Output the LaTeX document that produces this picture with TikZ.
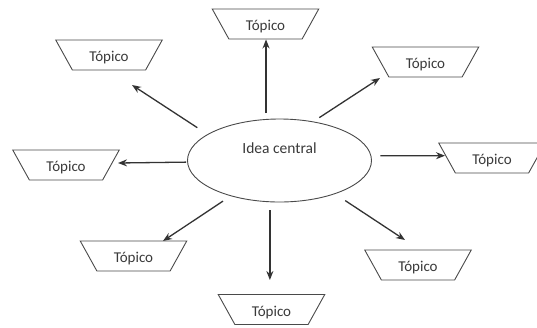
\documentclass[tikz,border=0pt]{standalone}
\usepackage{fontspec}
\setmainfont{Carlito}
\usetikzlibrary{shapes.geometric,arrows.meta}
\definecolor{linegray}{HTML}{4A4A4A}
\definecolor{arrowgray}{HTML}{333333}
\definecolor{textgray}{HTML}{3A3A3A}
\begin{document}
\begin{tikzpicture}[x=1pt,y=-1pt,
  topic/.style={trapezium, trapezium stretches=true, shape border rotate=180,
    trapezium angle=56.3, minimum width=107pt, minimum height=30pt,
    draw=linegray, line width=0.9pt, inner sep=0pt,
    text height=13.4pt, text depth=0pt,
    font=\fontsize{15}{18}\selectfont, text=textgray},
  central/.style={ellipse, draw=linegray, line width=0.9pt, minimum width=184pt,
    minimum height=83pt, inner sep=0pt},
  arr/.style={draw=arrowgray, line width=1.3pt, -{Stealth[length=9pt,width=7pt]}},
]
\useasboundingbox (0,0) rectangle (537,327);
\fill[white] (0,0) rectangle (537,327);

\node[central, label={[font=\fontsize{15.5}{18}\selectfont, text=textgray, yshift=12pt]center:Idea central}] (c) at (279.5,160.5) {};

\node[topic] (t1) at (265.5,24) {Tópico};
\node[topic] (t2) at (109,55) {Tópico};
\node[topic] (t3) at (425.5,62) {Tópico};
\node[topic] (t4) at (66,165) {Tópico};
\node[topic] (t5) at (492,158) {Tópico};
\node[topic] (t6) at (133.5,256) {Tópico};
\node[topic] (t7) at (271.5,309.5) {Tópico};
\node[topic] (t8) at (418,265) {Tópico};

\coordinate (e2) at (132,85);
\coordinate (e3) at (380,78);
\coordinate (e4) at (118,163);
\coordinate (e5) at (445,155.7);
\coordinate (e6) at (163,241);
\coordinate (e7) at (270,280);
\coordinate (e8) at (405,240);

\draw[arr, shorten <=6pt] (c.108) -- (c.108 |- t1.south);
\draw[arr, shorten <=12pt] (c.160) -- (e2);
\draw[arr, shorten <=7pt] (c.49) -- (e3);
\draw[arr, shorten <=1pt] (c.181) -- (e4);
\draw[arr, shorten <=9pt] (c.3) -- (e5);
\draw[arr, shorten <=9pt] (c.216) -- (e6);
\draw[arr, shorten <=8pt] (c.257) -- (c.257 |- e7);
\draw[arr, shorten <=12pt] (c.329) -- (e8);
\end{tikzpicture}
\end{document}
